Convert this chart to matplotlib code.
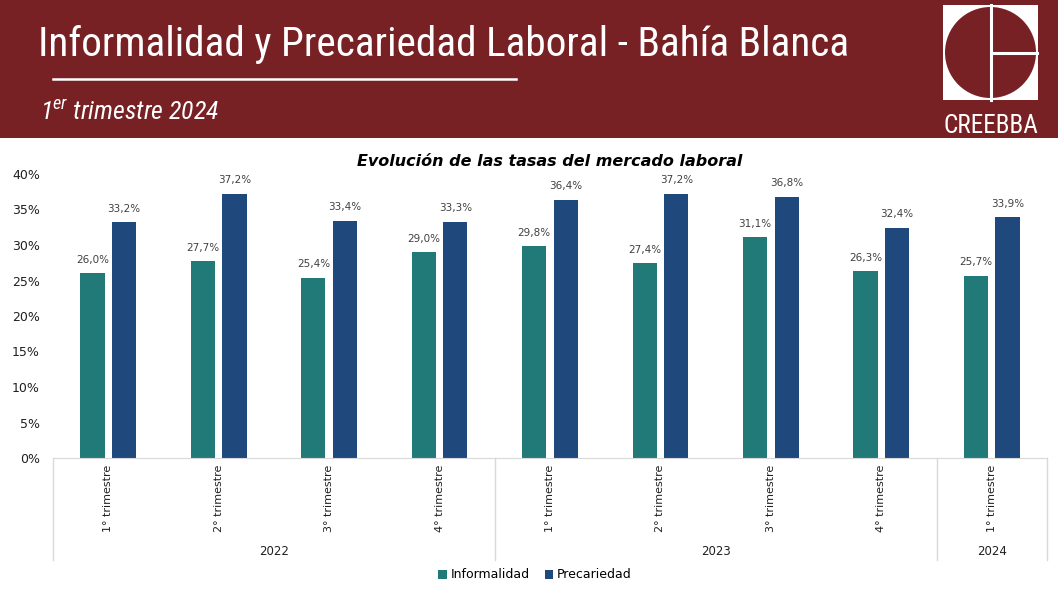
import numpy as np
import matplotlib
matplotlib.use("Agg")
import matplotlib.pyplot as plt
from matplotlib import font_manager as fm
from matplotlib.patches import Rectangle, Circle

# ── Data ───────────────────────────────────────────────────────────────────
QUARTERS = ["1° trimestre", "2° trimestre", "3° trimestre", "4° trimestre",
            "1° trimestre", "2° trimestre", "3° trimestre", "4° trimestre",
            "1° trimestre"]
YEARS = ["2022", "2023", "2024"]
YEAR_SPANS = [4, 4, 1]
INFORMALIDAD = [26.0, 27.7, 25.4, 29.0, 29.8, 27.4, 31.1, 26.3, 25.7]
PRECARIEDAD  = [33.2, 37.2, 33.4, 33.3, 36.4, 37.2, 36.8, 32.4, 33.9]

TEAL   = "#217A78"
BLUE   = "#1F487C"
HEADER = "#782124"
GRID   = "#D9D9D9"

# ── Fonts: prefer a narrow face for the header ─────────────────────────────
fonts = fm.fontManager.ttflist
names = {f.name for f in fonts}
NARROW, STRETCH = "DejaVu Sans", "normal"
for cand in ("Roboto Condensed", "Open Sans Condensed", "Liberation Sans Narrow",
             "Noto Sans Condensed", "DejaVu Sans Condensed"):
    if cand in names:
        NARROW = cand
        break
else:
    if any(f.name == "DejaVu Sans" and f.stretch in ("condensed", 700, "semi-condensed")
           for f in fonts):
        STRETCH = "condensed"
plt.rcParams["font.family"] = ["DejaVu Sans"]

W, H = 1058, 595
fig = plt.figure(figsize=(W / 100, H / 100), dpi=100)
fig.patch.set_facecolor("white")
renderer = fig.canvas.get_renderer()


def fit(t, width_px):
    # shrink a text until it spans the given pixel width
    bb = t.get_window_extent(renderer)
    t.set_fontsize(t.get_fontsize() * width_px / bb.width)


# ── Header (pixel overlay) ─────────────────────────────────────────────────
hd = fig.add_axes([0, 0, 1, 1], zorder=0)
hd.set_xlim(0, W)
hd.set_ylim(H, 0)
hd.axis("off")
hd.add_patch(Rectangle((0, 0), W, 138, color=HEADER, lw=0))
t1 = hd.text(38, 44, "Informalidad y Precariedad Laboral - Bahía Blanca", color="white",
             fontsize=31, family=NARROW, stretch=STRETCH, va="center", ha="left")
fit(t1, 810)
hd.plot([53, 516], [79, 79], color="white", lw=1.8)
t2 = hd.text(40, 112, r"1$^{\mathregular{er}}$ trimestre 2024", color="white", fontsize=17,
             family=NARROW, stretch=STRETCH, style="italic", va="center", ha="left")
fit(t2, 180)

# logo
hd.add_patch(Rectangle((943, 5), 95, 95, color="white", lw=0))
hd.add_patch(Circle((990.5, 52.5), 45.5, color=HEADER, lw=0))
hd.plot([991, 991], [5, 100], color="white", lw=2.2)
hd.plot([991, 1037], [53, 53], color="white", lw=2.2)
t3 = hd.text(990.5, 126, "CREEBBA", color="white", fontsize=20, family=NARROW,
             stretch=STRETCH, ha="center", va="center")
fit(t3, 95)

# ── Chart ──────────────────────────────────────────────────────────────────
ax = fig.add_axes([53 / W, 1 - 458 / H, (1047 - 53) / W, (458 - 174) / H], zorder=1)
ax.patch.set_alpha(0)
x = np.arange(len(QUARTERS))
bw = 0.22
off = 0.143
b1 = ax.bar(x - off, INFORMALIDAD, bw, color=TEAL, label="Informalidad")
b2 = ax.bar(x + off, PRECARIEDAD, bw, color=BLUE, label="Precariedad")

for bars, vals in ((b1, INFORMALIDAD), (b2, PRECARIEDAD)):
    for b, v in zip(bars, vals):
        ax.text(b.get_x() + b.get_width() / 2, v + 1.2, f"{v:.1f}%".replace(".", ","),
                ha="center", va="bottom", fontsize=7.5, color="#404040")

ax.set_xlim(-0.5, len(QUARTERS) - 0.5)
ax.set_ylim(0, 40)
ax.set_yticks(range(0, 41, 5))
ax.set_yticklabels([f"{t}%" for t in range(0, 41, 5)], fontsize=9, color="#202020")
ax.tick_params(axis="y", length=0, pad=9.5)
ax.set_xticks([])
for s in ("top", "right", "left"):
    ax.spines[s].set_visible(False)
ax.spines["bottom"].set_color(GRID)

ttl = ax.set_title("Evolución de las tasas del mercado laboral", fontsize=12,
                   fontweight="bold", style="italic", pad=6)
fit(ttl, 385)

# category labels and year groups, in data x / axes y
tr = ax.get_xaxis_transform()
for i, q in enumerate(QUARTERS):
    ax.text(i, -0.025, q, rotation=90, ha="center", va="top", fontsize=8,
            color="#202020", transform=tr)
edges = np.concatenate([[0], np.cumsum(YEAR_SPANS)]) - 0.5
for e in edges:
    ax.plot([e, e], [0, -0.36], color=GRID, lw=1, transform=tr, clip_on=False)
for k, yr in enumerate(YEARS):
    ax.text((edges[k] + edges[k + 1]) / 2, -0.33, yr, ha="center", va="center",
            fontsize=8.5, color="#202020", transform=tr)

fig.legend(handles=[b1, b2], loc="center", bbox_to_anchor=(535 / W, 1 - 575 / H),
           ncol=2, frameon=False, fontsize=9, handlelength=0.7, handleheight=0.7,
           handletextpad=0.3, columnspacing=1.2)

fig.savefig("out.png", dpi=100)
